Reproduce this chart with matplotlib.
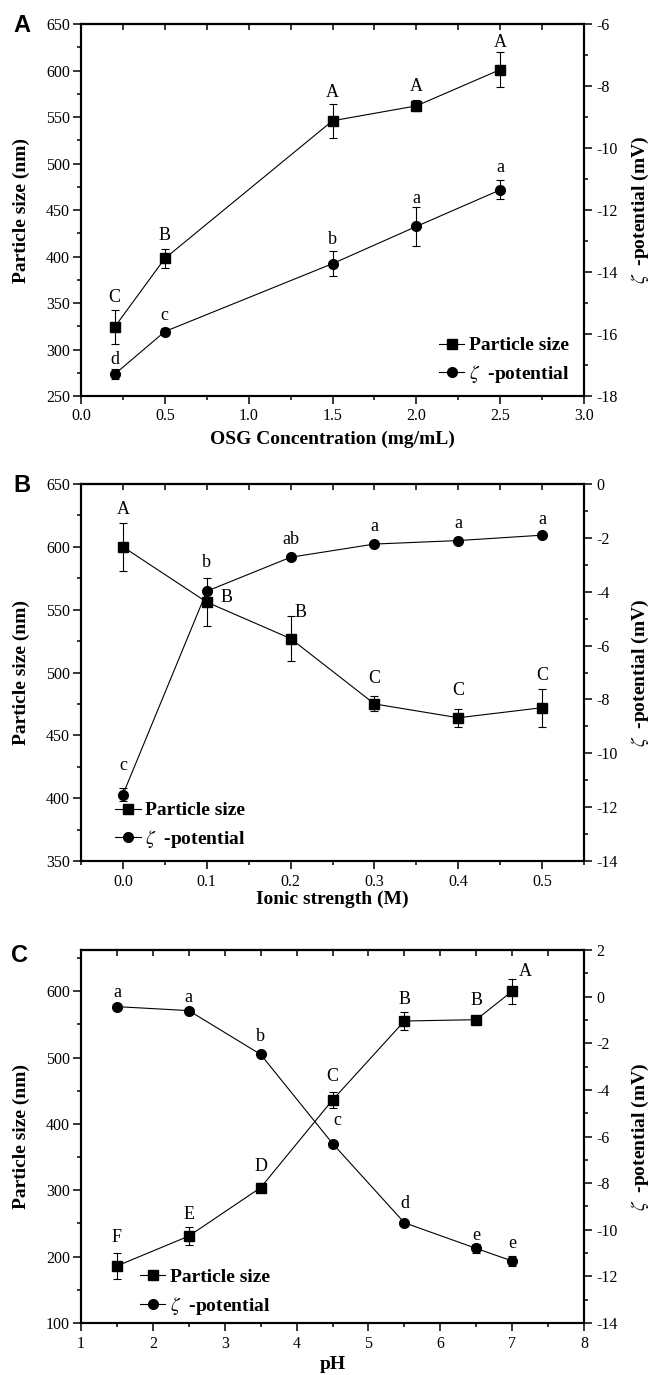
import matplotlib
matplotlib.use("Agg")
import matplotlib.pyplot as plt
from matplotlib.ticker import MultipleLocator
from matplotlib.lines import Line2D

plt.rcParams['font.family'] = ['Liberation Serif', 'DejaVu Serif']
plt.rcParams['mathtext.fontset'] = 'stix'
plt.rcParams['axes.unicode_minus'] = False

# ---- panel A: OSG concentration ----
conc = [0.2, 0.5, 1.5, 2.0, 2.5]
size_a = [324, 398, 546, 562, 601]
size_a_err = [18, 10, 18, 6, 19]
zeta_a = [-17.3, -15.92, -13.73, -12.53, -11.35]
zeta_a_err = [0.16, 0.12, 0.4, 0.62, 0.31]
size_a_letters = ["C", "B", "A", "A", "A"]
zeta_a_letters = ["d", "c", "b", "a", "a"]

# ---- panel B: ionic strength ----
ionic = [0.0, 0.1, 0.2, 0.3, 0.4, 0.5]
size_b = [600, 556, 527, 475, 464, 472]
size_b_err = [19, 19, 18, 6, 7, 15]
zeta_b = [-11.53, -3.98, -2.72, -2.23, -2.1, -1.9]
zeta_b_err = [0.24, 0.12, 0.08, 0.08, 0.08, 0.08]
size_b_letters = ["A", "B", "B", "C", "C", "C"]
zeta_b_letters = ["c", "b", "ab", "a", "a", "a"]

# ---- panel C: pH ----
ph = [1.5, 2.5, 3.5, 4.5, 5.5, 6.5, 7.0]
size_c = [186, 231, 304, 436, 555, 557, 600]
size_c_err = [20, 14, 7, 12, 13, 5, 19]
zeta_c = [-0.43, -0.6, -2.48, -6.3, -9.7, -10.8, -11.34]
zeta_c_err = [0.08, 0.08, 0.08, 0.08, 0.1, 0.2, 0.2]
size_c_letters = ["F", "E", "D", "C", "B", "B", "A"]
zeta_c_letters = ["a", "a", "b", "c", "d", "e", "e"]

ZETA_LABEL = r'$\zeta$  -potential'


def draw_panel(rect, x, size, size_err, zeta, zeta_err, size_letters, zeta_letters,
               size_offs, zeta_offs, xlim, xmaj, ylim, ymaj, zlim, zmaj,
               xlabel, xlab_y, leg_xy, tag, tag_xy):
    ax = fig.add_axes(rect)
    ax2 = ax.twinx()

    ax.errorbar(x, size, yerr=size_err, fmt='-s', color='k', ms=6.5, lw=0.8,
                elinewidth=0.8, capsize=3, capthick=0.8)
    ax2.errorbar(x, zeta, yerr=zeta_err, fmt='-o', color='k', ms=7, lw=0.8,
                 elinewidth=0.8, capsize=3, capthick=0.8)

    for lab, xi, yi, off in zip(size_letters, x, size, size_offs):
        ax.annotate(lab, (xi, yi), xytext=off, textcoords='offset pixels',
                    ha='center', va='center', fontsize=13)
    for lab, xi, yi, off in zip(zeta_letters, x, zeta, zeta_offs):
        ax2.annotate(lab, (xi, yi), xytext=off, textcoords='offset pixels',
                     ha='center', va='center', fontsize=13)

    ax.set_xlim(*xlim)
    ax.set_ylim(*ylim)
    ax2.set_ylim(*zlim)
    ax.xaxis.set_major_locator(MultipleLocator(xmaj))
    ax.xaxis.set_minor_locator(MultipleLocator(xmaj / 2))
    ax.yaxis.set_major_locator(MultipleLocator(ymaj))
    ax.yaxis.set_minor_locator(MultipleLocator(ymaj / 2))
    ax2.yaxis.set_major_locator(MultipleLocator(zmaj))
    ax2.yaxis.set_minor_locator(MultipleLocator(zmaj / 2))

    top = ax.secondary_xaxis('top')
    top.xaxis.set_major_locator(MultipleLocator(xmaj / 2))
    top.tick_params(direction='in', length=4, width=1.1, labeltop=False)
    top.spines['top'].set_linewidth(1.5)

    for a in (ax, ax2):
        for s in a.spines.values():
            s.set_linewidth(1.5)
    ax.tick_params(which='major', direction='out', length=6, width=1.1, labelsize=11.5, pad=2)
    ax.tick_params(which='minor', direction='out', length=3, width=1.1)
    ax.tick_params(axis='x', pad=3)
    ax2.tick_params(which='major', direction='out', length=6, width=1.1, labelsize=11.5, pad=3)
    ax2.tick_params(which='minor', direction='out', length=3, width=1.1)

    ax.set_xlabel(xlabel, fontsize=14, fontweight='bold')
    ax.xaxis.set_label_coords(0.5, xlab_y)
    ax.set_ylabel('Particle size (nm)', fontsize=14, fontweight='bold')
    ax.yaxis.set_label_coords(-0.102, 0.5)
    ax2.set_ylabel(ZETA_LABEL + ' (mV)', fontsize=14, fontweight='bold')
    ax2.yaxis.set_label_coords(1.092, 0.5)

    handles = [Line2D([], [], color='k', marker='s', ms=6.5, lw=0.8),
               Line2D([], [], color='k', marker='o', ms=7, lw=0.8)]
    ax2.legend(handles, ['Particle size', ZETA_LABEL], loc='center left',
               bbox_to_anchor=leg_xy, frameon=False,
               prop={'weight': 'bold', 'size': 14}, handlelength=1.3,
               handletextpad=0.25, labelspacing=0.45, borderpad=0, borderaxespad=0)

    fig.text(tag_xy[0], tag_xy[1], tag, ha='center', va='center', fontsize=17,
             fontweight='bold', family='Liberation Sans')
    return ax, ax2


fig = plt.figure(figsize=(6.55, 13.75), dpi=100)

draw_panel([0.1237, 0.712, 0.768, 0.2705], conc, size_a, size_a_err, zeta_a, zeta_a_err,
           size_a_letters, zeta_a_letters,
           [(0, 30), (0, 23), (0, 28), (0, 19), (0, 27)],
           [(0, 15), (0, 16), (0, 24), (0, 28), (0, 22)],
           (0, 3), 0.5, (250, 650), 50, (-18, -6), 2,
           'OSG Concentration (mg/mL)', -0.094, (0.712, 0.094), 'A', (22 / 655, 1 - 25 / 1375))

draw_panel([0.1237, 0.3738, 0.768, 0.2742], ionic, size_b, size_b_err, zeta_b, zeta_b_err,
           size_b_letters, zeta_b_letters,
           [(0, 37), (20, 5), (10, 26), (0, 25), (0, 27), (0, 32)],
           [(0, 29), (0, 29), (0, 18), (0, 18), (0, 17), (0, 16)],
           (-0.05, 0.55), 0.1, (350, 650), 50, (-14, 0), 2,
           'Ionic strength (M)', -0.08, (0.068, 0.093), 'B', (22 / 655, 1 - 485 / 1375))

draw_panel([0.1237, 0.0378, 0.768, 0.2713], ph, size_c, size_c_err, zeta_c, zeta_c_err,
           size_c_letters, zeta_c_letters,
           [(0, 28), (0, 22), (0, 21), (0, 23), (0, 22), (0, 19), (13, 20)],
           [(0, 14), (0, 13), (0, 18), (5, 23), (0, 19), (0, 13), (0, 18)],
           (1, 8), 1, (100, 662), 100, (-14, 2), 2,
           'pH', -0.088, (0.117, 0.082), 'C', (20 / 655, 1 - 955 / 1375))

fig.savefig('out.png', dpi=100)
